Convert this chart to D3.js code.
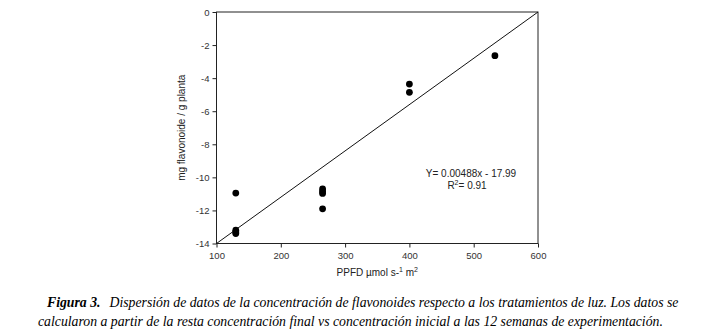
<!DOCTYPE html>
<html>
<head>
<meta charset="UTF-8">
<script src="https://d3js.org/d3.v7.min.js"></script>
<style>
  body { margin: 0; background: #fff; }
  svg { display: block; }
</style>
</head>
<body>
<svg id="canvas"></svg>
<script>
// PPFD (umol s-1 m2) and flavonoid change (mg flavonoide / g planta)
const ppfd = [130, 130, 130, 130, 265, 265, 265, 265, 400, 400, 533];
const flavonoide = [-10.95, -13.2, -13.3, -13.4, -10.7, -10.85, -10.97, -11.9, -4.36, -4.86, -2.64];

// fitted line as drawn (end points)
const fitX = [100, 600];
const fitY = [-14, 0];

const xTicks = [100, 200, 300, 400, 500, 600];
const yTicks = [0, -2, -4, -6, -8, -10, -12, -14];

const equation = "Y= 0.00488x - 17.99";
const r2 = "0.91";

const width = 706, height = 335;
const plotL = 216.5, plotR = 538, plotT = 12, plotB = 243.5;

const svg = d3.select("#canvas").attr("width", width).attr("height", height);
svg.append("rect").attr("width", width).attr("height", height).attr("fill", "#fff");

const x = d3.scaleLinear().domain([100, 600]).range([plotL, plotR]);
const y = d3.scaleLinear().domain([-14, 0]).range([plotB, plotT]);

const axisFont = "Arial, 'Liberation Sans', sans-serif";

// frame
svg.append("rect")
  .attr("x", plotL).attr("y", plotT)
  .attr("width", plotR - plotL).attr("height", plotB - plotT)
  .attr("fill", "none").attr("stroke", "#222").attr("stroke-width", 1);

const xAxis = svg.append("g")
  .attr("transform", `translate(0,${plotB})`)
  .call(d3.axisBottom(x).tickValues(xTicks).tickSize(4).tickPadding(5).tickFormat(d3.format("d")));
const yAxis = svg.append("g")
  .attr("transform", `translate(${plotL},0)`)
  .call(d3.axisLeft(y).tickValues(yTicks).tickSize(4).tickPadding(3).tickFormat(d => d === 0 ? "0" : "-" + Math.abs(d)));

[xAxis, yAxis].forEach(g => {
  g.select(".domain").remove();
  g.selectAll("line").attr("stroke", "#222");
  g.selectAll("text").attr("font-family", axisFont).attr("font-size", 9.5).attr("fill", "#333");
});

// regression line
svg.append("path")
  .attr("d", d3.line().x(d => x(d[0])).y(d => y(d[1]))(d3.zip(fitX, fitY)))
  .attr("fill", "none").attr("stroke", "#111").attr("stroke-width", 1);

// points
svg.append("g").selectAll("circle")
  .data(d3.zip(ppfd, flavonoide))
  .join("circle")
  .attr("cx", d => x(d[0])).attr("cy", d => y(d[1]))
  .attr("r", 3.4).attr("fill", "#000");

// equation
const eq = svg.append("text")
  .attr("font-family", axisFont).attr("font-size", 10).attr("fill", "#222")
  .attr("text-anchor", "middle");
eq.append("tspan").attr("x", 471).attr("y", 177).text(equation);
const r2t = eq.append("tspan").attr("x", 467).attr("y", 189);
r2t.append("tspan").text("R");
r2t.append("tspan").attr("dy", -4).attr("font-size", 7).text("2");
r2t.append("tspan").attr("dy", 4).text("= " + r2);

// axis titles
svg.append("text")
  .attr("transform", `translate(185,${(plotT + plotB) / 2}) rotate(-90)`)
  .attr("text-anchor", "middle")
  .attr("font-family", axisFont).attr("font-size", 10).attr("fill", "#222")
  .text("mg flavonoide / g planta");

const xt = svg.append("text")
  .attr("x", (plotL + plotR) / 2).attr("y", 276)
  .attr("text-anchor", "middle")
  .attr("font-family", axisFont).attr("font-size", 10).attr("fill", "#222");
xt.append("tspan").text("PPFD µmol s-");
xt.append("tspan").attr("dy", -4).attr("font-size", 7).text("1");
xt.append("tspan").attr("dy", 4).text(" m");
xt.append("tspan").attr("dy", -4).attr("font-size", 7).text("2");

// caption
const cap = svg.append("g")
  .attr("font-family", "'Liberation Serif', 'Times New Roman', serif")
  .attr("font-style", "italic").attr("font-size", 13.75).attr("fill", "#000");
const l1 = cap.append("text").attr("x", 47).attr("y", 307);
l1.append("tspan").attr("font-weight", "bold").text("Figura 3.");
l1.append("tspan").attr("dx", 9).text("Dispersión de datos de la concentración de flavonoides respecto a los tratamientos de luz. Los datos se");
cap.append("text").attr("x", 38).attr("y", 326)
  .text("calcularon a partir de la resta concentración final vs concentración inicial a las 12 semanas de experimentación.");
</script>
</body>
</html>
